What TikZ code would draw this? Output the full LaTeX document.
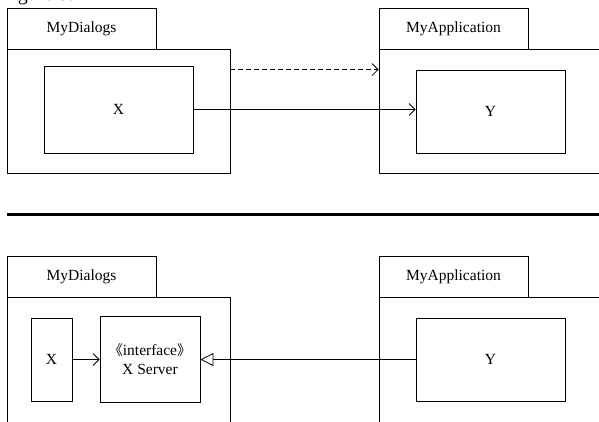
\documentclass[tikz,border=0pt]{standalone}
\usepackage{fontspec}
\setmainfont{Liberation Serif}
\newfontfamily\cjk{Noto Sans CJK SC}
\usetikzlibrary{arrows.meta}
\begin{document}
\begin{tikzpicture}[x=1pt,y=-1pt,
  box/.style={draw=black, line width=0.8pt, inner sep=0pt, font=\fontsize{15.5}{18}\selectfont},
  pkgbody/.style={draw=black, line width=0.8pt, inner sep=0pt},
  openarrow/.style={-{Straight Barb[length=6pt,width=12pt]}, line width=0.8pt},
  realize/.style={-{Triangle[open,length=13pt,width=13pt]}, line width=0.8pt},
  sep/.style={line width=3pt}]
\useasboundingbox (0,0) rectangle (599,421);
\clip (0,0) rectangle (599,421);

% cropped caption (only its lowest edge shows, as in the reference)
\node[anchor=base west, inner sep=0pt, font=\fontsize{20}{24}\selectfont] (cap) at (1,0.8) {Figure 3:};

% ---------- top diagram ----------
\node[box, minimum width=149pt, minimum height=41pt] (tab1) at (81.5,28.5) {MyDialogs};
\node[pkgbody, minimum width=223pt, minimum height=124pt] (body1) at (118.5,111) {};
\node[box, minimum width=149pt, minimum height=87pt] (X) at (118.5,109.5) {X};

\node[box, minimum width=149pt, minimum height=41pt] (tab2) at (453.5,28.5) {MyApplication};
\node[pkgbody, minimum width=230pt, minimum height=124pt] (body2) at (494,111) {};
\node[box, minimum width=149pt, minimum height=83pt] (Y) at (490.5,111.5) {Y};

\draw[openarrow, dashed, dash pattern=on 5pt off 3pt] (body1.east |- Y.north) -- (body2.west |- Y.north);
\draw[openarrow] (X.east) -- (X.east -| Y.west);

% separator
\coordinate (s1) at (7,214);
\coordinate (s2) at (605,214);
\draw[sep] (s1) -- (s2);

% ---------- bottom diagram ----------
\node[box, minimum width=149pt, minimum height=41pt] (tab3) at (81.5,276.5) {MyDialogs};
\node[pkgbody, minimum width=223pt, minimum height=140pt] (body3) at (118.5,367) {};
\node[box, minimum width=41pt, minimum height=83pt] (X2) at (51.5,359.5) {X};
\node[box, minimum width=100pt, minimum height=86pt, align=center] (XS) at (150,359)
  {{\cjk\fontsize{14}{18}\selectfont 《}interface{\cjk\fontsize{14}{18}\selectfont 》}\\[1pt]X Server};

\node[box, minimum width=149pt, minimum height=41pt] (tab4) at (453.5,276.5) {MyApplication};
\node[pkgbody, minimum width=230pt, minimum height=140pt] (body4) at (494,367) {};
\node[box, minimum width=149pt, minimum height=83pt] (Y2) at (490.5,359.5) {Y};

\draw[openarrow] (X2.east) -- (X2.east -| XS.west);
\draw[realize] (Y2.west) -- (Y2.west -| XS.east);
\end{tikzpicture}
\end{document}
